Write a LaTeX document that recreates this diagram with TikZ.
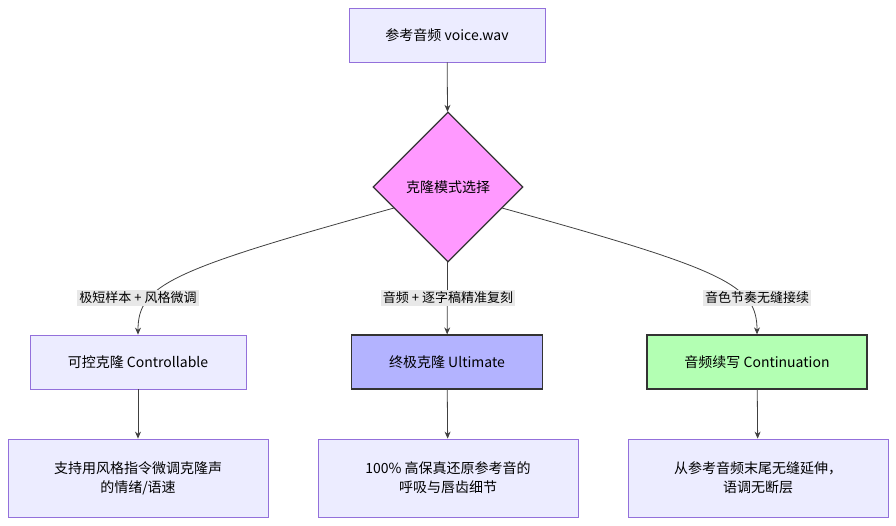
\documentclass[tikz,border=0pt]{standalone}
\usepackage{fontspec}
\setmainfont{Noto Sans CJK SC}
\usetikzlibrary{shapes.geometric,arrows.meta}
\definecolor{boxf}{HTML}{ECECFF}
\definecolor{boxd}{HTML}{9370DB}
\definecolor{lab}{HTML}{E8E8E8}
\begin{document}
\begin{tikzpicture}[x=1pt,y=-1pt,font=\fontsize{14}{19}\selectfont,
 box/.style={draw=boxd,fill=boxf,line width=0.8pt,inner sep=0,align=center},
 strong/.style={draw=black!80,line width=1.3pt,inner sep=0,align=center},
 lbl/.style={fill=lab,inner sep=2pt,font=\fontsize{13}{16}\selectfont},
 arr/.style={draw=black!75,line width=0.8pt,-{Stealth[length=7pt,width=6pt]}}]
\useasboundingbox (0,0) rectangle (896,526);
\node[box,minimum width=196,minimum height=54] (src) at (447,35) {参考音频 voice.wav};
\node[diamond,draw=black!80,line width=1.3pt,fill=magenta!40!violet!0,fill={rgb,255:red,255;green,153;blue,255},minimum width=150,minimum height=150,inner sep=0] (d) at (448,187) {克隆模式选择};
\node[box,minimum width=216,minimum height=54] (c) at (138,362) {可控克隆 Controllable};
\node[strong,fill={rgb,255:red,179;green,179;blue,255},minimum width=191,minimum height=54] (u) at (447,362) {终极克隆 Ultimate};
\node[strong,fill={rgb,255:red,179;green,255;blue,179},minimum width=220,minimum height=54] (n) at (757,362) {音频续写 Continuation};
\node[box,minimum width=260,minimum height=78] (c2) at (138,478) {支持用风格指令微调克隆声\\的情绪/语速};
\node[box,minimum width=260,minimum height=78] (u2) at (448,478) {100\% 高保真还原参考音的\\呼吸与唇齿细节};
\node[box,minimum width=260,minimum height=78] (n2) at (758,478) {从参考音频末尾无缝延伸，\\语调无断层};
\draw[arr] (src) -- (d);
\draw[arr] (394,208) .. controls (170,270) and (138,285) .. (c.north);
\draw[arr] (d) -- (u);
\draw[arr] (502,208) .. controls (726,270) and (757,285) .. (n.north);
\node[lbl] (l1) at (138,298) {极短样本 + 风格微调};
\node[lbl] (l2) at (448,298) {音频 + 逐字稿精准复刻};
\node[lbl] (l3) at (757,298) {音色节奏无缝接续};
\draw[arr] (c) -- (c2);
\draw[arr] (u) -- (u2);
\draw[arr] (n) -- (n2);
\end{tikzpicture}
\end{document}
